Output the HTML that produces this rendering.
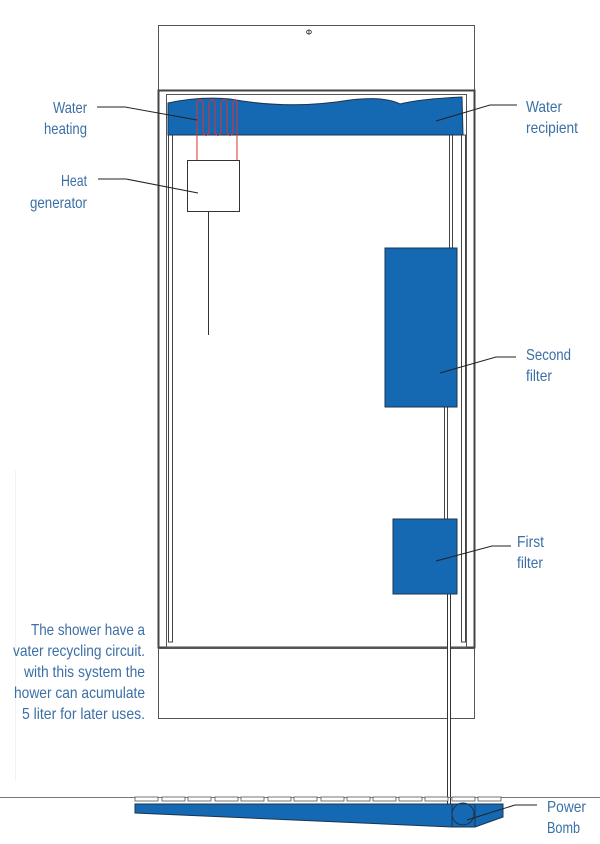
<!DOCTYPE html>
<html><head><meta charset="utf-8"><style>
html,body{margin:0;padding:0;background:#fff}
svg{display:block}
text{font-family:"Liberation Sans",sans-serif;font-size:16px;fill:#3b6fa6}
</style></head><body>
<svg width="600" height="844" viewBox="0 0 600 844" xmlns="http://www.w3.org/2000/svg">
<rect x="15" y="470" width="1" height="310" fill="#f2f2f2"/>
<rect x="158.5" y="25.5" width="316" height="65" fill="#fff" stroke="#555" stroke-width="1"/>
<text x="309" y="35" text-anchor="middle" style="fill:#222;font-size:8px">Φ</text>
<rect x="158.5" y="90.5" width="316" height="557" fill="#fff" stroke="#444" stroke-width="2"/>
<rect x="166.5" y="94.5" width="300" height="553" fill="none" stroke="#555" stroke-width="1"/>
<rect x="158.5" y="648.5" width="316" height="70" fill="#fff" stroke="#555" stroke-width="1"/>
<rect x="168.5" y="135" width="4" height="507" fill="#fff" stroke="#444" stroke-width="1"/>
<rect x="461.5" y="135" width="4" height="507" fill="#fff" stroke="#444" stroke-width="1"/>
<rect x="449.5" y="135" width="3" height="113" fill="#fff" stroke="#444" stroke-width="1"/>
<rect x="444.5" y="407" width="3" height="112" fill="#fff" stroke="#444" stroke-width="1"/>
<rect x="447.5" y="594" width="3" height="230" fill="#fff" stroke="#333" stroke-width="1"/>
<path d="M168,103 Q200,96 230,99 Q290,110 350,100 Q385,96 400,104 Q420,99 462,97 L463,135 L168,135 Z" fill="#1568b2" stroke="#1b3550" stroke-width="1"/>
<path d="M197,160 V103 Q200,96 203,103 V133 Q206,138 209,133 V103 Q212,96 215,103 V133 Q218,138 221,133 V103 Q224,96 227,103 V133 Q230,138 233,133 V103 Q236,96 237,103 V160" fill="none" stroke="#d33" stroke-width="1"/>
<rect x="187.5" y="160.5" width="52" height="51" fill="#fff" stroke="#333" stroke-width="1"/>
<line x1="208.5" y1="211" x2="208.5" y2="335" stroke="#333"/>
<rect x="385" y="248" width="72" height="159" fill="#1568b2" stroke="#1b3550" stroke-width="1"/>
<rect x="393" y="519" width="64" height="75" fill="#1568b2" stroke="#1b3550" stroke-width="1"/>
<line x1="0" y1="797.5" x2="600" y2="797.5" stroke="#777"/>
<g fill="#fff" stroke="#555" stroke-width="0.8">
<rect x="135" y="797" width="23" height="4"/><rect x="162" y="797" width="23" height="4"/><rect x="188" y="797" width="23" height="4"/><rect x="215" y="797" width="23" height="4"/><rect x="241" y="797" width="23" height="4"/><rect x="268" y="797" width="23" height="4"/><rect x="294" y="797" width="23" height="4"/><rect x="321" y="797" width="23" height="4"/><rect x="347" y="797" width="23" height="4"/><rect x="373" y="797" width="23" height="4"/><rect x="399" y="797" width="23" height="4"/><rect x="425" y="797" width="23" height="4"/><rect x="452" y="797" width="23" height="4"/><rect x="478" y="797" width="23" height="4"/>
</g>
<path d="M135,804 L503,804 L503,817 L475,827 L452,827 L135,813 Z" fill="#1568b2" stroke="#1b3550" stroke-width="1"/>
<circle cx="463" cy="814" r="11" fill="#1568b2" stroke="#1b3550" stroke-width="1"/>
<rect x="452" y="804" width="23" height="23" fill="none" stroke="#1b3550" stroke-width="1"/>
<g stroke="#222" fill="none" stroke-width="1">
<polyline points="97,107 125,107 197,120"/>
<polyline points="98,179 126,179 198,193"/>
<polyline points="517,105 490,105 436,121"/>
<polyline points="516,357 496,357 440,373"/>
<polyline points="511,546 492,546 436,561"/>
<polyline points="537,805 515,805 467,820"/>
</g>
<text x="53" y="113" textLength="34" lengthAdjust="spacingAndGlyphs">Water</text>
<text x="44" y="134" textLength="43" lengthAdjust="spacingAndGlyphs">heating</text>
<text x="61" y="186" textLength="26" lengthAdjust="spacingAndGlyphs">Heat</text>
<text x="30" y="208" textLength="57" lengthAdjust="spacingAndGlyphs">generator</text>
<text x="31" y="635" textLength="114" lengthAdjust="spacingAndGlyphs">The shower have a</text>
<text x="13" y="656" textLength="132" lengthAdjust="spacingAndGlyphs">vater recycling circuit.</text>
<text x="24" y="677" textLength="121" lengthAdjust="spacingAndGlyphs">with this system the</text>
<text x="14" y="698" textLength="131" lengthAdjust="spacingAndGlyphs">hower can acumulate</text>
<text x="22" y="719" textLength="123" lengthAdjust="spacingAndGlyphs">5 liter for later uses.</text>
<text x="526" y="112" textLength="36" lengthAdjust="spacingAndGlyphs">Water</text>
<text x="526" y="133" textLength="52" lengthAdjust="spacingAndGlyphs">recipient</text>
<text x="526" y="360" textLength="45" lengthAdjust="spacingAndGlyphs">Second</text>
<text x="526" y="381" textLength="26" lengthAdjust="spacingAndGlyphs">filter</text>
<text x="517" y="547" textLength="27" lengthAdjust="spacingAndGlyphs">First</text>
<text x="517" y="568" textLength="26" lengthAdjust="spacingAndGlyphs">filter</text>
<text x="547" y="812" textLength="39" lengthAdjust="spacingAndGlyphs">Power</text>
<text x="547" y="833" textLength="33" lengthAdjust="spacingAndGlyphs">Bomb</text>
</svg>
</body></html>
